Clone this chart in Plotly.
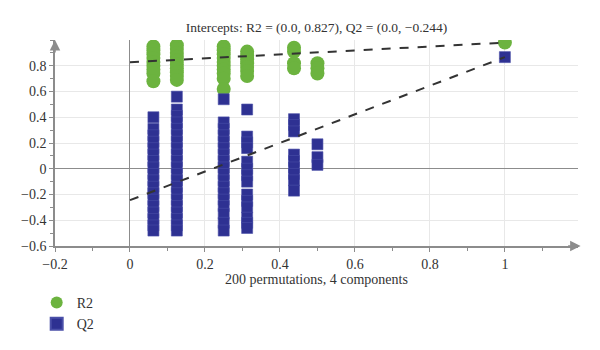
import plotly.graph_objects as go

# ---- data ----
perm_x = [0.0625, 0.125, 0.25, 0.3125, 0.4375, 0.5, 1.0]

r2_by_col = [
    [0.95, 0.92, 0.89, 0.86, 0.83, 0.80, 0.77, 0.74, 0.68],
    [0.96, 0.93, 0.90, 0.87, 0.84, 0.81, 0.78, 0.75, 0.72, 0.69],
    [0.95, 0.92, 0.89, 0.86, 0.83, 0.80, 0.77, 0.74, 0.70, 0.62],
    [0.91, 0.88, 0.85, 0.82, 0.79, 0.76, 0.72],
    [0.94, 0.91, 0.82, 0.78],
    [0.82, 0.78, 0.74],
    [0.98],
]

q2_by_col = [
    [0.40, 0.31, 0.26, 0.21, 0.16, 0.11, 0.06, 0.01, -0.04, -0.09, -0.14, -0.19,
     -0.24, -0.29, -0.34, -0.39, -0.44, -0.48],
    [0.56, 0.46, 0.41, 0.36, 0.31, 0.26, 0.21, 0.16, 0.11, 0.06, 0.01, -0.04,
     -0.09, -0.14, -0.19, -0.24, -0.29, -0.34, -0.39, -0.44, -0.48],
    [0.54, 0.36, 0.31, 0.26, 0.21, 0.16, 0.11, 0.06, 0.01, -0.04, -0.09, -0.14,
     -0.19, -0.24, -0.29, -0.35, -0.42, -0.48],
    [0.46, 0.25, 0.205, 0.16, 0.055, 0.0, -0.05, -0.10, -0.20, -0.25, -0.30,
     -0.38, -0.42, -0.46],
    [0.385, 0.34, 0.29, 0.11, 0.06, 0.01, -0.04, -0.09, -0.17],
    [0.19, 0.09, 0.03],
    [0.867],
]

r2_intercept = 0.827
q2_intercept = -0.244
r2_original = 0.98
q2_original = 0.867

x_ticks = [-0.2, 0, 0.2, 0.4, 0.6, 0.8, 1]
x_tick_text = ["\u22120.2", "0", "0.2", "0.4", "0.6", "0.8", "1"]
y_ticks = [-0.6, -0.4, -0.2, 0, 0.2, 0.4, 0.6, 0.8]
y_tick_text = ["\u22120.6", "\u22120.4", "\u22120.2", "0", "0.2", "0.4", "0.6", "0.8"]

title_text = "Intercepts: R2 = (0.0, 0.827), Q2 = (0.0, \u22120.244)"
x_title = "200 permutations, 4 components"

# ---- build point lists ----
r2_x, r2_y, q2_x, q2_y = [], [], [], []
for xv, ys in zip(perm_x, r2_by_col):
    r2_x += [xv] * len(ys)
    r2_y += ys
for xv, ys in zip(perm_x, q2_by_col):
    q2_x += [xv] * len(ys)
    q2_y += ys

GREEN = "#6cb33f"
BLUE = "#2e3192"
FONT = "Liberation Serif"
TXT = "#333333"
AXC = "#8c8c8c"

fig = go.Figure()

fig.add_trace(go.Scatter(
    x=r2_x, y=r2_y, mode="markers", name="R2",
    marker=dict(symbol="circle", size=14, color=GREEN, line=dict(width=0))))
fig.add_trace(go.Scatter(
    x=q2_x, y=q2_y, mode="markers", name="Q2",
    marker=dict(symbol="square", size=11, color=BLUE, line=dict(width=0.6, color="#4a4fa8"))))

fig.add_trace(go.Scatter(
    x=[0, 1], y=[r2_intercept, r2_original], mode="lines",
    line=dict(color="#333333", width=2, dash="dash"), showlegend=False, hoverinfo="skip"))
fig.add_trace(go.Scatter(
    x=[0, 1], y=[q2_intercept, q2_original], mode="lines",
    line=dict(color="#333333", width=2, dash="dash"), showlegend=False, hoverinfo="skip"))

fig.update_layout(
    width=600, height=350,
    margin=dict(l=55, r=22, t=40, b=104, autoexpand=False),
    paper_bgcolor="white", plot_bgcolor="white",
    font=dict(family=FONT, size=14, color=TXT),
    title=dict(text=title_text, x=0.5, xref="paper", xanchor="center",
               y=0.922, yref="container", yanchor="middle",
               font=dict(family=FONT, size=13.5, color=TXT)),
    legend=dict(x=-0.035, y=0.18, xref="paper", yref="container",
                xanchor="left", yanchor="top",
                font=dict(family=FONT, size=14, color=TXT),
                itemsizing="constant", itemwidth=30, tracegroupgap=0,
                bgcolor="rgba(0,0,0,0)"),
    showlegend=True,
)

fig.update_xaxes(
    range=[-0.2, 1.195], tickvals=x_ticks, ticktext=x_tick_text,
    showgrid=True, gridcolor="#e8e8e8", gridwidth=1,
    zeroline=True, zerolinecolor=AXC, zerolinewidth=1,
    showline=True, linecolor=AXC, linewidth=1.5,
    ticks="outside", ticklen=4, tickcolor=AXC,
    minor=dict(dtick=0.1, tick0=0, ticks="outside", ticklen=3, tickcolor=AXC, showgrid=False),
    title=dict(text=x_title, font=dict(family=FONT, size=14, color=TXT), standoff=1),
    tickfont=dict(family=FONT, size=14, color=TXT),
    automargin=False,
)
fig.update_yaxes(
    range=[-0.6, 1.0], tickvals=y_ticks, ticktext=y_tick_text,
    showgrid=True, gridcolor="#e8e8e8", gridwidth=1,
    zeroline=True, zerolinecolor=AXC, zerolinewidth=1,
    showline=True, linecolor=AXC, linewidth=1.5,
    ticks="outside", ticklen=4, tickcolor=AXC,
    minor=dict(dtick=0.1, tick0=0, ticks="outside", ticklen=3, tickcolor=AXC, showgrid=False),
    tickfont=dict(family=FONT, size=14, color=TXT),
    automargin=False,
)

# axis arrows
fig.add_annotation(xref="paper", yref="paper", x=0, y=1.0, ax=0, ay=14,
                   axref="pixel", ayref="pixel", text="", showarrow=True,
                   arrowhead=2, arrowsize=1.4, arrowwidth=1.5, arrowcolor=AXC)
fig.add_annotation(xref="paper", yref="paper", x=1.005, y=0, ax=-14, ay=0,
                   axref="pixel", ayref="pixel", text="", showarrow=True,
                   arrowhead=2, arrowsize=1.4, arrowwidth=1.5, arrowcolor=AXC)

fig.write_html("out.html")
